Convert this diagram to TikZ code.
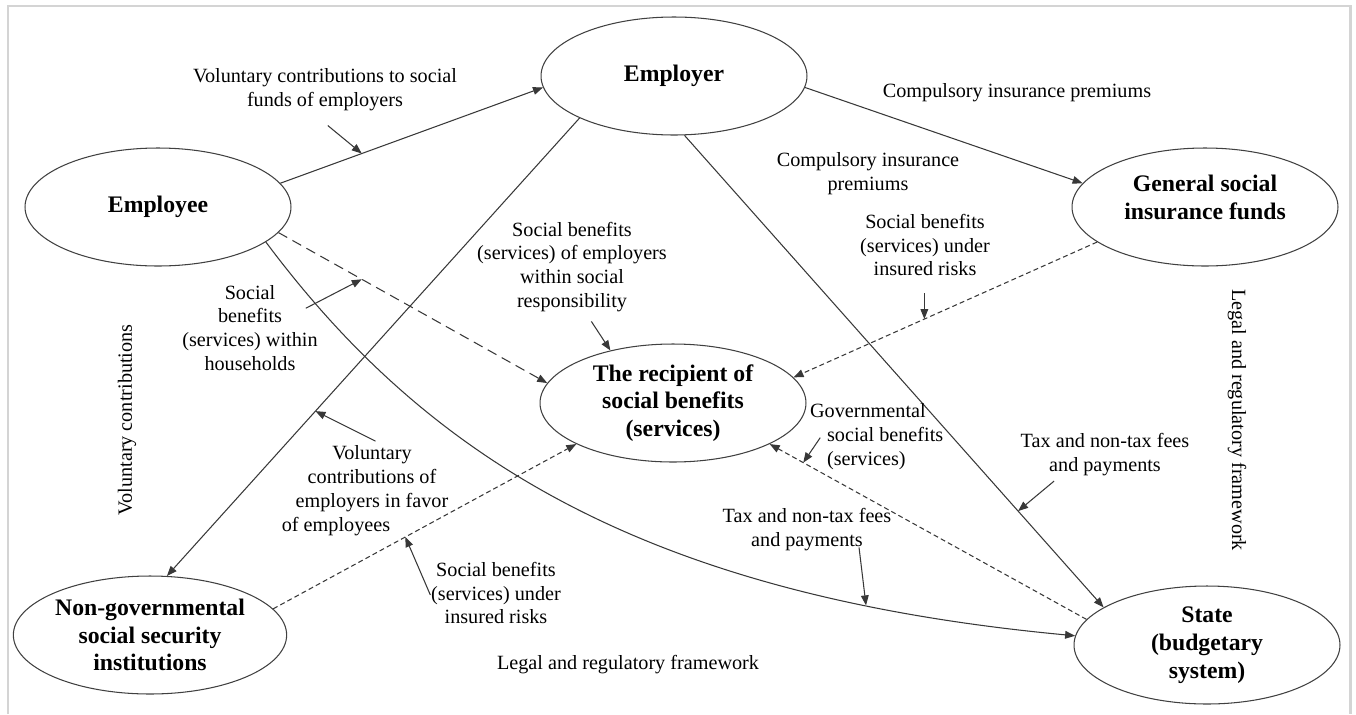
\documentclass[tikz,border=0pt]{standalone}
\usepackage{fontspec}
\setmainfont{Liberation Serif}
\usetikzlibrary{arrows.meta, shapes.geometric}

\begin{document}
\begin{tikzpicture}[
    x=0.02cm, y=-0.02cm,
    party/.style={ellipse, draw=black!75, line width=0.6pt,
                  minimum width=5.32cm, minimum height=2.36cm,
                  inner sep=1pt, align=center,
                  font=\fontsize{13.5}{15.8}\selectfont\bfseries},
    note/.style={align=center, inner sep=1pt,
                 font=\fontsize{11.5}{13.6}\selectfont},
    arr/.style={-{Triangle[length=5.7pt, width=4.4pt]}, draw=black!78,
                line width=0.6pt},
    longdash/.style={arr, dash pattern=on 5.7pt off 3.4pt},
    shortdash/.style={arr, dash pattern=on 2.8pt off 1.8pt},
    ptr/.style={arr},
    frame/.style={draw=black!17, line width=1.7pt}
]
    \useasboundingbox (0,0) rectangle (1356,714);
    \draw[frame] (8,714) |- (1350,6) -- (1350,714);

    % parties
    \node[party] (employer) at (674,76) {Employer};
    \node[party] (employee) at (158,207) {Employee};
    \node[party] (funds) at (1205,207) {General social\\insurance funds\\[-0.16cm]\mbox{}};
    \node[party] (recipient) at (673,403) {The recipient of\\social benefits\\(services)};
    \node[party] (ngo) at (150,635) {Non-governmental\\social security\\institutions};
    \node[party] (state) at (1207,645) {State\\(budgetary\\system)};

    % flows
    \draw[arr] (employee.11) -- (employer.185) coordinate[pos=0.31] (volTip);
    \draw[arr] (employer.355) -- (funds.169);
    \draw[arr] (employer.204) -- (ngo.74) coordinate[pos=0.64] (volEmpTip);
    \draw[arr] (employer.280) -- (state.160) coordinate[pos=0.796] (taxTip);
    \draw[arr] (employee.342) .. controls (425,455) and (640,595) .. (state.176)
          coordinate[pos=0.825] (taxLowTip);
    \draw[longdash] (employee.348) -- (recipient.171) coordinate[pos=0.31] (homeTip);
    \draw[shortdash] (funds.198) -- (recipient.12) coordinate[pos=0.569] (riskTip);
    \draw[shortdash] (ngo.12) -- (recipient.203) coordinate[pos=0.436] (riskLowTip);
    \draw[shortdash] (state.168) -- (recipient.337) coordinate[pos=0.894] (govTip);

    % labels
    \node[note] (volFunds) at (325,90) {Voluntary contributions to social\\funds of employers};
    \node[note] (compTop) at (1017,93) {Compulsory insurance premiums};
    \node[note] (compMid) at (868,174) {Compulsory insurance\\premiums};
    \node[note] (riskTop) at (925,245) {Social benefits\\(services) under\\insured risks};
    \node[note] (csr) at (572,267) {Social benefits\\(services) of employers\\within social\\responsibility};
    \node[note] (home) at (250,328) {Social\\benefits\\(services) within\\households};
    \node[note, rotate=90] (volLeft) at (127,420) {Voluntary contributions};
    \node[note, rotate=-90] (legalRight) at (1237,420) {Legal and regulatory framework};
    \node[note] (volEmp) at (372,491) {Voluntary\\contributions of\\employers in favor\\of employees\hspace*{1.44cm}};
    \node[note] (riskLow) at (496,593) {Social benefits\\(services) under\\insured risks};
    \node[note] (legalLow) at (628,665) {Legal and regulatory framework};
    \node[note, align=left, anchor=west] (gov) at (808,437)
          {Governmental\\\hspace*{0.34cm}social benefits\\\hspace*{0.34cm}(services)};
    \node[note] (taxRight) at (1105,455) {Tax and non-tax fees\\and payments};
    \node[note] (taxLow) at (807,530) {Tax and non-tax fees\\and payments};

    % pointers
    \draw[ptr] ([shift={(-34,-28)}]volTip) -- (volTip);
    \draw[ptr] ([shift={(-56,29)}]homeTip) -- (homeTip);
    \draw[ptr] ([shift={(-19,-29)}]recipient.140) -- (recipient.140);
    \draw[ptr] ([shift={(0,-26)}]riskTip) -- (riskTip);
    \draw[ptr] ([shift={(60,30)}]volEmpTip) -- (volEmpTip);
    \draw[ptr] ([shift={(25,58)}]riskLowTip) -- (riskLowTip);
    \draw[ptr] ([shift={(17,-25)}]govTip) -- (govTip);
    \draw[ptr] ([shift={(36,-30)}]taxTip) -- (taxTip);
    \draw[ptr] ([shift={(-7,-58)}]taxLowTip) -- (taxLowTip);
\end{tikzpicture}
\end{document}
